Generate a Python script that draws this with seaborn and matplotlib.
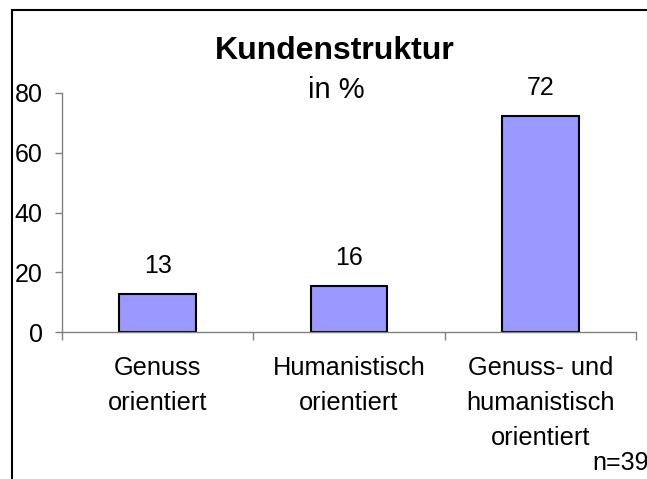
import matplotlib
matplotlib.use("Agg")
import pandas as pd
import matplotlib.pyplot as plt
import seaborn as sns
from matplotlib.patches import Rectangle

# values
categories = ["Genuss\norientiert", "Humanistisch\norientiert", "Genuss- und\nhumanistisch\norientiert"]
shares = [12.8, 15.4, 72.3]
share_labels = ["13", "16", "72"]
y_ticks = [0, 20, 40, 60, 80]
sample_note = "n=39"

sns.set_style("white")
plt.rcParams['font.family'] = ['Liberation Sans', 'DejaVu Sans']
plt.rcParams['text.color'] = 'black'

df = pd.DataFrame({"Kategorie": categories, "Anteil": shares})

fig = plt.figure(figsize=(6.47, 4.79), dpi=100)
ax = fig.add_axes([62 / 647, 1 - 332 / 479, (636 - 62) / 647, (332 - 93) / 479])
sns.barplot(data=df, x="Kategorie", y="Anteil", color="#9999ff", saturation=1,
            width=0.4, edgecolor="black", linewidth=1.5, ax=ax)

ax.set_xlim(-0.5, 2.5)
ax.set_ylim(0, 80)
ax.set_yticks(y_ticks)
ax.set_xlabel("")
ax.set_ylabel("")
ax.set_xticks([-0.5, 0.5, 1.5, 2.5], minor=True)

ax.tick_params(axis="y", left=True, direction="out", length=5, width=1,
               color="#808080", labelcolor="black", labelsize=18, pad=9)
ax.tick_params(axis="x", which="major", bottom=True, length=0, labelcolor="black",
               labelsize=18.3, pad=17)
ax.tick_params(axis="x", which="minor", bottom=True, direction="out", length=6,
               width=1, color="#808080")
for lbl in ax.get_xticklabels():
    lbl.set_linespacing(1.6)

sns.despine(ax=ax)
for side in ["left", "bottom"]:
    ax.spines[side].set_color("#808080")
    ax.spines[side].set_linewidth(1)

# value labels above bars
for i, (v, lab) in enumerate(zip(shares, share_labels)):
    ax.annotate(lab, (i, v), xytext=(0, 20), textcoords="offset points",
                ha="center", va="center", fontsize=18, annotation_clip=False)

fig.text(335 / 647, 1 - 51 / 479, "Kundenstruktur", ha="center", va="center",
         fontsize=23, fontweight="bold")
fig.text(336 / 647, 1 - 90 / 479, "in %", ha="center", va="center", fontsize=21)
fig.text(592 / 647, 1 - 463 / 479, sample_note, ha="left", va="center", fontsize=18)

# frame around the chart area (right and bottom edges fall outside the image)
fig.add_artist(Rectangle((12 / 647, -0.2), 1.2, 1 - 10 / 479 + 0.2,
                         transform=fig.transFigure, fill=False,
                         edgecolor="black", linewidth=1.5))

fig.savefig("out.png", dpi=100)
